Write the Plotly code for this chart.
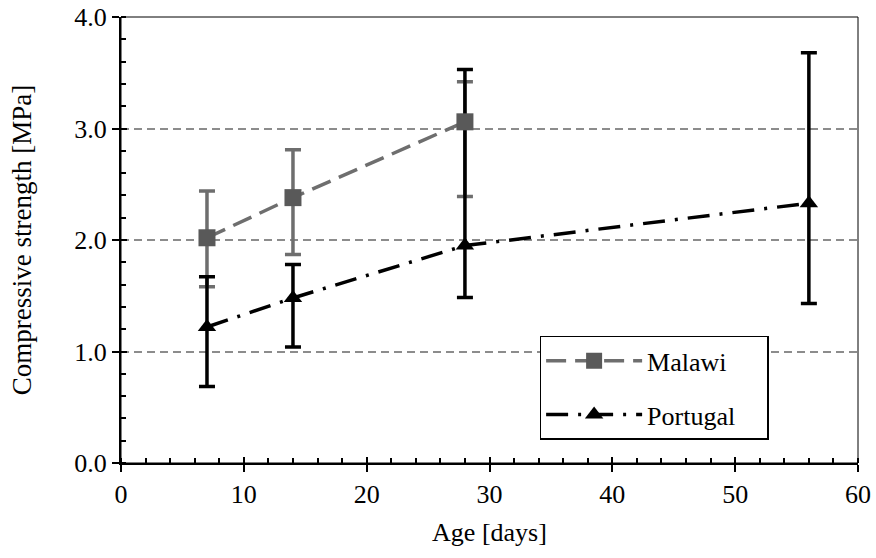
import plotly.graph_objects as go

# Data
malawi_age = [7, 14, 28]
malawi_strength = [2.02, 2.38, 3.06]
malawi_err_plus = [0.42, 0.43, 0.36]
malawi_err_minus = [0.44, 0.51, 0.67]

portugal_age = [7, 14, 28, 56]
portugal_strength = [1.22, 1.48, 1.95, 2.33]
portugal_err_plus = [0.45, 0.30, 1.58, 1.35]
portugal_err_minus = [0.535, 0.44, 0.465, 0.90]

x_ticks = [0, 10, 20, 30, 40, 50, 60]
y_ticks = [0.0, 1.0, 2.0, 3.0, 4.0]

FONT = "Liberation Serif, Times New Roman, Times, serif"
FS = 26
GRAY_LINE = "#6e6e6e"
GRAY_MARK = "#595959"
NB = "\u00a0"

fig = go.Figure()

# error bars first (drawn beneath lines/markers)
fig.add_trace(go.Scatter(
    x=malawi_age, y=malawi_strength, mode="markers",
    marker=dict(size=1, opacity=0), showlegend=False, hoverinfo="skip",
    error_y=dict(type="data", symmetric=False, array=malawi_err_plus,
                 arrayminus=malawi_err_minus, color=GRAY_LINE, thickness=3.5, width=8),
))
fig.add_trace(go.Scatter(
    x=portugal_age, y=portugal_strength, mode="markers",
    marker=dict(size=1, opacity=0), showlegend=False, hoverinfo="skip",
    error_y=dict(type="data", symmetric=False, array=portugal_err_plus,
                 arrayminus=portugal_err_minus, color="black", thickness=3.5, width=8),
))

fig.add_trace(go.Scatter(
    x=malawi_age, y=malawi_strength, mode="lines+markers", name="Malawi",
    legendgroup="m",
    line=dict(color=GRAY_LINE, width=3.5, dash="20px,9px"),
    marker=dict(symbol="square", size=17, color=GRAY_MARK),
))
fig.add_trace(go.Scatter(
    x=portugal_age, y=portugal_strength, mode="lines+markers",
    name="Portugal" + NB * 4,
    legendgroup="p",
    line=dict(color="black", width=3.5, dash="22px,10px,3px,10px"),
    marker=dict(symbol="triangle-up", size=16, color="black"),
))

# dummy trace for overlay axes (inside major ticks)
fig.add_trace(go.Scatter(x=[None], y=[None], xaxis="x2", yaxis="y2",
                         showlegend=False, hoverinfo="skip"))

axis_font = dict(family=FONT, size=FS, color="black")

fig.update_layout(
    width=876, height=558,
    margin=dict(l=121, r=18, t=17, b=95, autoexpand=False),
    paper_bgcolor="white", plot_bgcolor="white",
    font=dict(family=FONT, size=FS, color="black"),
    showlegend=True,
    legend=dict(
        x=0.568, y=0.285, xanchor="left", yanchor="top",
        bgcolor="white", bordercolor="black", borderwidth=1.5,
        font=dict(family=FONT, size=FS, color="black"),
        itemwidth=96, tracegroupgap=17, traceorder="grouped",
    ),
    xaxis=dict(
        range=[0, 60], tickvals=x_ticks, ticktext=[str(v) for v in x_ticks],
        ticks="outside", ticklen=7, tickwidth=2, tickcolor="black",
        showline=True, linecolor="black", linewidth=2, automargin=False,
        showgrid=False, zeroline=False, tickfont=axis_font,
        minor=dict(dtick=2, ticks="inside", ticklen=5, tickwidth=1.5, tickcolor="black", showgrid=False),
        title=dict(text="Age [days]", font=axis_font, standoff=15),
        ticklabelstandoff=0,
    ),
    yaxis=dict(
        range=[0, 4], tickvals=y_ticks, ticktext=[f"{v:.1f}" for v in y_ticks],
        ticks="outside", ticklen=7, tickwidth=2, tickcolor="black",
        showline=True, linecolor="black", linewidth=2, automargin=False,
        showgrid=True, gridcolor="#8c8c8c", gridwidth=1.5, griddash="8px,5px",
        zeroline=False, tickfont=axis_font,
        minor=dict(dtick=0.2, ticks="inside", ticklen=5, tickwidth=1.5, tickcolor="black", showgrid=False),
        title=dict(text="Compressive strength [MPa]" + NB * 6,
                   font=dict(family=FONT, size=27, color="black"), standoff=35),
    ),
    xaxis2=dict(overlaying="x", anchor="y2", range=[0, 60], tickvals=x_ticks, automargin=False,
                ticks="inside", ticklen=6, tickwidth=2, tickcolor="black",
                showticklabels=False, showgrid=False, zeroline=False, showline=False),
    yaxis2=dict(overlaying="y", anchor="x2", range=[0, 4], tickvals=y_ticks, automargin=False,
                ticks="inside", ticklen=6, tickwidth=2, tickcolor="black",
                showticklabels=False, showgrid=False, zeroline=False, showline=False),
    shapes=[dict(type="rect", xref="paper", yref="paper", x0=0, x1=1, y0=0, y1=1,
                 line=dict(color="black", width=1), layer="above")],
)

fig.write_html("out.html", config={"displayModeBar": False},
               post_script="document.body.style.margin='0';")
